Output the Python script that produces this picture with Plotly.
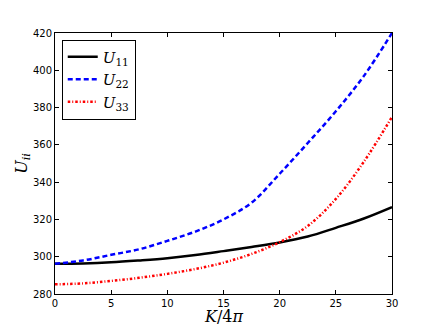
import plotly.graph_objects as go

# K/4pi grid
k = [0, 2.5, 5, 7.5, 10, 12.5, 15, 17.5, 20, 22.5, 25, 27.5, 30]

u11 = [296.2, 296.4, 297.0, 298.0, 299.2, 300.9, 303.0, 305.2, 307.6, 310.8, 315.5, 320.5, 326.6]
u22 = [296.2, 298.0, 301.0, 304.0, 308.5, 313.5, 320.0, 329.0, 344.5, 361.0, 378.0, 397.0, 420.0]
u33 = [285.2, 285.7, 287.0, 288.7, 290.8, 293.4, 296.8, 301.5, 307.8, 316.5, 331.0, 351.0, 375.0]

fig = go.Figure()

fig.add_trace(go.Scatter(x=k, y=u11, mode="lines", name="<i>U</i><sub>11</sub>", legendgroup="a",
                         line=dict(color="black", width=2.5, shape="spline")))
fig.add_trace(go.Scatter(x=k, y=u22, mode="lines", name="<i>U</i><sub>22</sub>", legendgroup="b",
                         line=dict(color="blue", width=2.5, dash="5px,3px", shape="spline")))
fig.add_trace(go.Scatter(x=k, y=u33, mode="lines", name="<i>U</i><sub>33</sub>", legendgroup="c",
                         line=dict(color="red", width=2.5, dash="2.5px,2px,1px,2px", shape="spline")))

# page has an 8px body margin, so the figure is shrunk by 8px to fit the window
fig.update_layout(
    width=428, height=319,
    margin=dict(l=47, r=44, t=25, b=33),
    plot_bgcolor="white", paper_bgcolor="white",
    font=dict(family="DejaVu Sans", size=10, color="black"),
    showlegend=True,
    legend=dict(x=0.02, y=0.975, xanchor="left", yanchor="top",
                bordercolor="black", borderwidth=1, bgcolor="white",
                font=dict(family="DejaVu Serif", size=15),
                itemwidth=30, tracegroupgap=0),
    annotations=[dict(text="<i>K</i>/4<i>π</i>", xref="paper", yref="paper",
                      x=0.5, y=0, yanchor="top", yshift=-11, showarrow=False,
                      font=dict(family="DejaVu Serif", size=16))],
)

fig.update_xaxes(range=[0, 30], tickvals=[0, 5, 10, 15, 20, 25, 30],
                 showgrid=False, zeroline=False, automargin=False,
                 showline=True, linecolor="black", linewidth=1, mirror="allticks",
                 ticks="inside", ticklen=4, tickcolor="black")
fig.update_yaxes(range=[280, 420], tickvals=[280, 300, 320, 340, 360, 380, 400, 420],
                 showgrid=False, zeroline=False, automargin=False,
                 showline=True, linecolor="black", linewidth=1, mirror="allticks",
                 ticks="inside", ticklen=4, tickcolor="black",
                 title=dict(text="<i>U</i><sub><i>ii</i></sub>", standoff=1,
                            font=dict(family="DejaVu Serif", size=16)))

fig.write_html("out.html")
